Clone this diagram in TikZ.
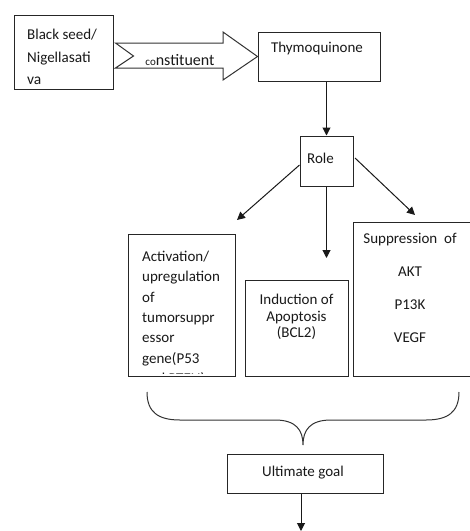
\documentclass[tikz,border=0pt]{standalone}
\usepackage{fontspec}
\setmainfont{Carlito}
\usetikzlibrary{arrows.meta,calc}
\tikzset{
  box/.style={draw=black!85, line width=1pt, inner sep=0pt},
  txt/.style={inner sep=0pt, font=\fontsize{15}{19.8}\selectfont, text=black!90},
  arr/.style={draw=black!90, line width=1pt, -{Triangle[length=8pt,width=8pt]}},
  ln/.style={draw=black!80, line width=1pt},
}
\begin{document}
\begin{tikzpicture}[x=1pt,y=-1pt]
\clip (0,0) rectangle (470,531);
\fill[white] (0,0) rectangle (470,531);

% boxes
\node[box, minimum width=99, minimum height=74] (seed) at (63.5,52) {};
\node[box, minimum width=122, minimum height=49] (thy) at (319,56.5) {};
\node[box, minimum width=53, minimum height=50] (role) at (326.5,161) {};
\node[box, minimum width=107, minimum height=142] (act) at (181.5,305) {};
\node[box, minimum width=103, minimum height=96] (ind) at (296.5,328) {};
\node[box, minimum width=122, minimum height=154] (sup) at (414,299) {};
\node[box, minimum width=156, minimum height=39] (goal) at (305,473.5) {};

% texts
\node[txt, anchor=west, align=left] (seedtxt) at (27,57)
  {Black seed/\\[3pt]Nigella{\fontsize{15.5}{19}\selectfont sati}\\[3pt]{\fontsize{15.5}{19}\selectfont va}};
\node[txt] (thytxt) at (317,48) {Thymoquinone};
\node[txt, anchor=west] (roletxt) at (307,158) {Role};
\begin{scope}
  \clip ($(act.north west)+(1,0)$) rectangle ($(act.south east)+(-1,-3.5)$);
  \node[txt, anchor=north west, align=left, font=\fontsize{15}{20.3}\selectfont] (acttxt) at (142,251)
    {Activation/\\upregulation\\of\\tumorsuppr\\essor\\gene(P53\\and PTEN)};
\end{scope}
\node[txt, align=center, font=\fontsize{15}{16.5}\selectfont] (indtxt) at (296.5,317)
  {Induction of\\Apoptosis\\(BCL2)};
\node[txt, align=center, font=\fontsize{15}{33}\selectfont] (suptxt) at (410,288)
  {Suppression\ \ of\\AKT\\P13K\\VEGF};
\node[txt] (goaltxt) at (303,473) {Ultimate goal};

% big block arrow
\draw[ln, line join=miter] ($(seed.east)+(2,-9)$) coordinate (ba1)
  -- (223,43) -- (223,32) -- (thy.west) -- (223,80) -- (223,68)
  -- ($(seed.east)+(2,16)$) -- ($(seed.east)+(20,4)$) -- cycle;
\node[inner sep=0pt, text=black!90, anchor=base] (cons) at (180,65)
  {{\fontsize{11}{13}\selectfont co}{\fontsize{16}{18}\selectfont nstituent}};

% arrows
\coordinate (la) at (237,220);
\coordinate (ma) at (326.5,258);
\coordinate (ra) at (415,215);
\coordinate (ga) at (301,531);
\draw[arr] (thy.south -| role.north) -- (role.north);
\draw[arr] (role.west |- 0,165) -- (la);
\draw[arr] (355,158) -- (ra);
\draw[arr] (role.south) -- (ma);
\draw[arr] (goal.south -| ga) -- (ga);

% brace
\coordinate (bl) at (147,392);
\coordinate (bc) at (303,445);
\coordinate (br) at (459,392);
\draw[ln] (bl) .. controls (147,412) and (158,420) .. (180,420)
  -- (275,420) .. controls (296,420) and (303,430) .. (bc)
  .. controls (303,430) and (310,420) .. (331,420)
  -- (426,420) .. controls (448,420) and (459,412) .. (br);
\end{tikzpicture}
\end{document}
